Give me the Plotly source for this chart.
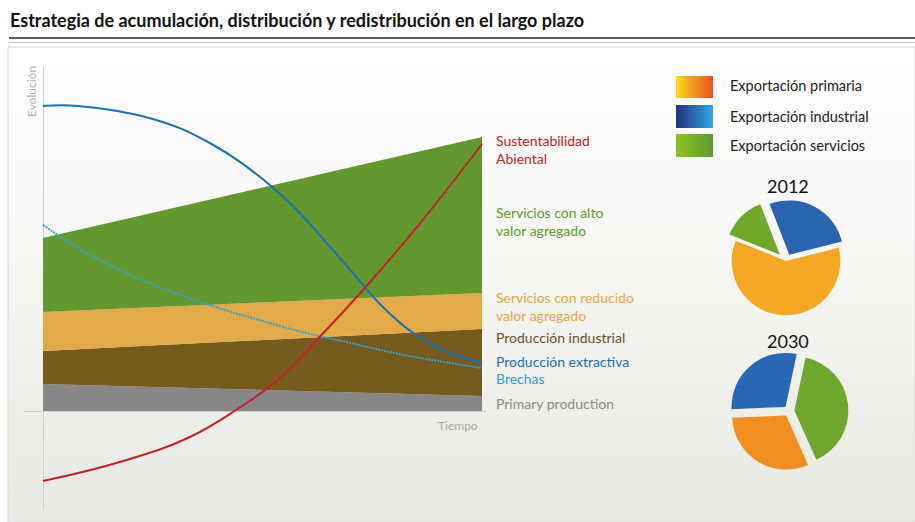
import plotly.graph_objects as go

W, H = 915, 522

# ---------------- data ----------------
time_ends = [0, 100]
primary_production = [27, 15]          # layer thickness (gray)
produccion_industrial = [33, 67]       # layer thickness (brown)
servicios_reducido = [39, 36]          # layer thickness (orange)
servicios_alto = [74, 156]             # layer thickness (green)

extractiva_x = [0, 8, 25, 38, 51.7, 58.5, 65.4, 70, 73.3, 77.4, 84.3, 91.1, 100]
extractiva_y = [305, 305, 292, 268, 226, 198, 164, 141, 124, 104, 78, 61, 48]

brechas_x = [0, 10, 20, 30, 40, 50, 60, 70, 80, 90, 100]
brechas_y = [186, 158, 136, 118, 103, 90, 78, 68, 58, 50, 43]

sustent_x = [0, 17.5, 33, 44, 54, 63, 73.3, 85.2, 100]
sustent_y = [-70, -51, -27, 1, 33, 74, 123, 184, 267]

pie_labels_2012 = ["Exportación servicios", "Exportación industrial", "Exportación primaria"]
pie_values_2012 = [13, 27, 60]
pie_labels_2030 = ["Exportación servicios", "Exportación primaria", "Exportación industrial"]
pie_values_2030 = [40, 31, 29]

legend_labels = ["Exportación primaria", "Exportación industrial", "Exportación servicios"]

# ---------------- helpers (pixel -> paper) ----------------
def px(x):
    return x / W

def py(y):
    return 1 - y / H

FONT = "Lato"
C_GRAY, C_BROWN, C_ORANGE, C_GREEN = "#878787", "#765a1e", "#e3aa4a", "#639830"
C_RED, C_BLUE, C_LBLUE = "#c0232b", "#1c6fb3", "#37a3cb"

fig = go.Figure()

# background panel with vertical gradient (pixel axis x/y)
fig.add_trace(go.Scatter(
    x=[8, 915, 915, 8, 8], y=[47, 47, 522, 522, 47], mode="lines",
    line=dict(color="#d9d9d9", width=1), fill="toself",
    fillgradient=dict(type="vertical", start=47, stop=522,
                      colorscale=[[0, "#ffffff"], [0.35, "#f8f8f6"], [1, "#e9e9e3"]]),
    hoverinfo="skip", showlegend=False, xaxis="x", yaxis="y"))

# legend swatches (gradients)
sw_grad = [("#f9dc1a", "#e9501d"), ("#262f80", "#2fa8e1"), ("#8fc31f", "#5f9a31")]
sw_y = [(76, 98), (105, 128), (134, 157)]
for (c1, c2), (y0, y1) in zip(sw_grad, sw_y):
    fig.add_trace(go.Scatter(
        x=[676, 713, 713, 676, 676], y=[y0, y0, y1, y1, y0], mode="lines",
        line=dict(width=0, color=c2), fill="toself",
        fillgradient=dict(type="horizontal", start=676, stop=713,
                          colorscale=[[0, c1], [1, c2]]),
        hoverinfo="skip", showlegend=False, xaxis="x", yaxis="y"))

# stacked areas (main axes x2/y2)
for name, vals, col in [("Primary production", primary_production, C_GRAY),
                        ("Producción industrial", produccion_industrial, C_BROWN),
                        ("Servicios con reducido valor agregado", servicios_reducido, C_ORANGE),
                        ("Servicios con alto valor agregado", servicios_alto, C_GREEN)]:
    fig.add_trace(go.Scatter(
        x=time_ends, y=vals, name=name, stackgroup="s", mode="lines",
        line=dict(width=0, color=col), fillcolor=col,
        showlegend=False, xaxis="x2", yaxis="y2"))

fig.add_trace(go.Scatter(x=brechas_x, y=brechas_y, mode="lines", name="Brechas",
                         line=dict(color=C_LBLUE, width=2, dash="2px,1px", shape="spline"),
                         showlegend=False, xaxis="x2", yaxis="y2"))
fig.add_trace(go.Scatter(x=extractiva_x, y=extractiva_y, mode="lines", name="Producción extractiva",
                         line=dict(color=C_BLUE, width=2, shape="spline", smoothing=1.2),
                         showlegend=False, xaxis="x2", yaxis="y2"))
fig.add_trace(go.Scatter(x=sustent_x, y=sustent_y, mode="lines", name="Sustentabilidad Abiental",
                         line=dict(color=C_RED, width=2, shape="spline", smoothing=1.2),
                         showlegend=False, xaxis="x2", yaxis="y2"))

# pies
fig.add_trace(go.Pie(
    labels=pie_labels_2012, values=pie_values_2012, sort=False, direction="clockwise",
    rotation=-68, pull=[0.16, 0.13, 0], textinfo="none", showlegend=False,
    marker=dict(colors=["#71a82c", "#2a64b1", "#f5a623"], line=dict(width=0)),
    domain=dict(x=[px(723), px(849)], y=[py(324), py(198)])))
fig.add_trace(go.Pie(
    labels=pie_labels_2030, values=pie_values_2030, sort=False, direction="clockwise",
    rotation=12, pull=[0.1, 0.1, 0.1], textinfo="none", showlegend=False,
    marker=dict(colors=["#6fa62e", "#f08e1f", "#2868b5"], line=dict(width=0)),
    domain=dict(x=[px(729.6), px(848.4)], y=[py(470.4), py(351.6)])))

# ---------------- annotations ----------------
ann = []
def text(x, y, s, color, size=14, xanchor="left", weight="normal", angle=0, fam=FONT):
    ann.append(dict(x=px(x), y=py(y), xref="paper", yref="paper", text=s, showarrow=False,
                    xanchor=xanchor, yanchor="middle", textangle=angle, align="left",
                    font=dict(family=fam, size=size, color=color, weight=weight)))

text(8, 20, "Estrategia de acumulación, distribución y redistribución en el largo plazo",
     "#111111", size=18, weight="bold")

text(494, 149.5, "Sustentabilidad<br>Abiental", C_RED)
text(494, 221.5, "Servicios con alto<br>valor agregado", "#5e9a2c")
text(494, 306.5, "Servicios con reducido<br>valor agregado", "#e6a843")
text(494, 337, "Producción industrial", "#6b4f1d")
text(494, 361, "Producción extractiva", C_BLUE)
text(494, 378, "Brechas", "#2ea2d3")
text(494, 403, "Primary production", "#8a8a8a")

text(32, 92, "Evolución", "#b3b3b3", size=12, xanchor="center", angle=-90)
text(480, 425, "Tiempo", "#a8a8a8", size=12, xanchor="right")

for lab, yc in zip(legend_labels, [85, 116, 146]):
    text(728, yc, lab, "#222222", size=14.5)

text(788, 186, "2012", "#111111", size=18, xanchor="center")
text(788, 341, "2030", "#111111", size=18, xanchor="center")

# ---------------- layout ----------------
fig.update_layout(
    width=W, height=H, autosize=False,
    margin=dict(l=0, r=0, t=0, b=0),
    paper_bgcolor="#ffffff", plot_bgcolor="rgba(0,0,0,0)",
    annotations=ann,
    xaxis=dict(domain=[0, 1], range=[0, W], visible=False, fixedrange=True),
    yaxis=dict(domain=[0, 1], range=[H, 0], visible=False, fixedrange=True),
    xaxis2=dict(domain=[px(24), px(486)], range=[-19 / 4.39, 100 + 4 / 4.39], anchor="y2",
                showgrid=False, showticklabels=False, ticks="", showline=False,
                zeroline=True, zerolinecolor="#cfcfcf", zerolinewidth=1),
    yaxis2=dict(domain=[py(510), py(67)], range=[-99, 344], anchor="x2",
                showgrid=False, showticklabels=False, ticks="", showline=False,
                zeroline=True, zerolinecolor="#cfcfcf", zerolinewidth=1),
    shapes=[
        dict(type="line", xref="paper", yref="paper", x0=px(9), x1=1, y0=py(38), y1=py(38),
             line=dict(color="#5a5a5a", width=2)),
        dict(type="line", xref="paper", yref="paper", x0=px(9), x1=1, y0=py(42.5), y1=py(42.5),
             line=dict(color="#c4c4c4", width=1)),
    ],
)

fig.write_html("out.html", config={"displayModeBar": False},
               post_script="document.body.style.margin='0';")
